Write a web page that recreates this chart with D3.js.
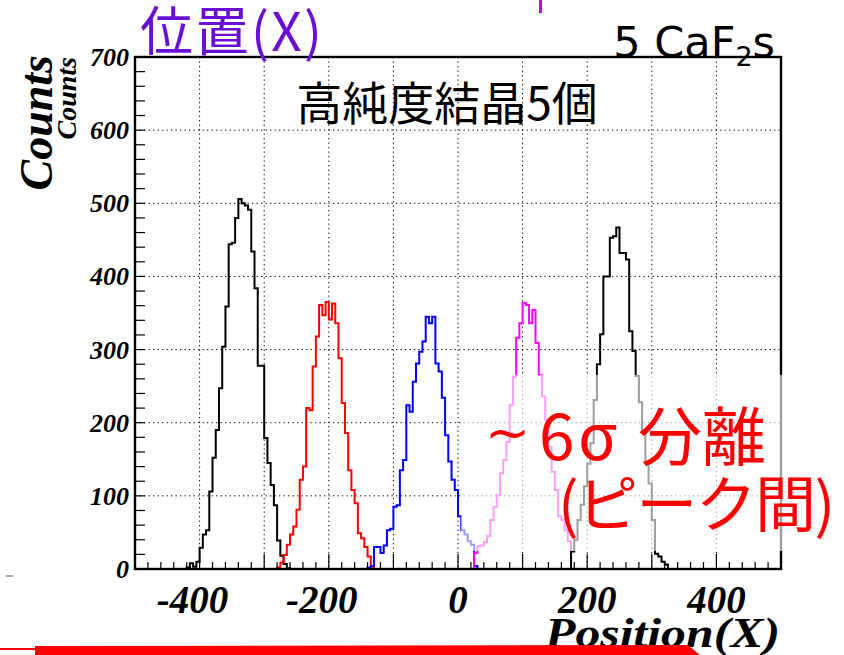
<!DOCTYPE html>
<html>
<head>
<meta charset="utf-8">
<script src="https://cdn.jsdelivr.net/npm/d3@7"></script>
<style>
  body { margin: 0; background: #fff; }
  svg { display: block; }
</style>
</head>
<body>
<svg id="chart" width="844" height="655"></svg>
<script>
// Histogram binning (position units per bin)
const binWidth = 5;

// Crystal 1 (black)
const crystal1Start = -420;
const crystal1Counts = [2, 8, 3, 10, 29, 47, 53, 106, 152, 190, 247, 304, 359, 444, 446, 480,
  506, 500, 497, 491, 434, 384, 278, 278, 179, 145, 115, 87, 39, 18, 7, 1];

// Crystal 2 (red)
const crystal2Start = -280;
const crystal2Counts = [2, 9, 19, 33, 47, 58, 81, 122, 140, 220, 217, 277, 318, 361, 347, 365,
  341, 363, 336, 288, 227, 186, 135, 108, 90, 49, 42, 30, 17, 3];

// Crystal 3 (blue)
const crystal3Start = -140;
const crystal3Counts = [2, 4, 30, 30, 22, 32, 53, 55, 85, 87, 135, 149, 224, 215, 256, 281,
  297, 311, 345, 336, 345, 281, 270, 234, 183, 147, 122, 108, 72, 53, 47, 38, 33, 4];

// Crystal 4 (magenta), empty bins continue along the baseline
const crystal4Start = 25;
const crystal4Counts = [22, 31, 32, 37, 45, 67, 85, 101, 131, 149, 174, 224, 263, 316, 336, 364,
  361, 336, 354, 309, 265, 236, 204, 167, 133, 108, 72, 67, 53, 38,
  0, 0, 0, 0, 0, 0, 0, 0, 0, 0, 0, 0, 0, 0, 0, 0, 0, 0, 0, 0, 0, 0, 0, 0, 0, 0, 0, 0, 0, 0];

// Crystal 5 (black)
const crystal5Start = 175;
const crystal5Counts = [24, 40, 67, 88, 113, 144, 172, 231, 280, 321, 400, 400, 453, 455, 467,
  432, 432, 423, 325, 298, 264, 228, 190, 147, 117, 67, 21, 17, 10, 6];

const seriesStarts = [crystal1Start, crystal2Start, crystal3Start, crystal4Start, crystal5Start];
const seriesCounts = [crystal1Counts, crystal2Counts, crystal3Counts, crystal4Counts, crystal5Counts];
const seriesColors = ["#000000", "#ff0000", "#0000ff", "#ff00ff", "#000000"];

// Axes
const xDomain = [-500, 500];
const yDomain = [0, 700];
const xTickLabels = [-400, -200, 0, 200, 400];
const xGridValues = [-400, -300, -200, -100, 0, 100, 200, 300, 400];
const yTickLabels = [0, 100, 200, 300, 400, 500, 600, 700];

const svg = d3.select("#chart");
const W = 844, H = 655;
const frame = { left: 135, right: 781, top: 57, bottom: 569 };

const x = d3.scaleLinear().domain(xDomain).range([frame.left, frame.right]);
const y = d3.scaleLinear().domain(yDomain).range([frame.bottom, frame.top]);

svg.append("rect").attr("width", W).attr("height", H).attr("fill", "#fff");

// Dotted grid
const grid = svg.append("g").attr("stroke", "#000").attr("stroke-width", 1)
  .attr("stroke-dasharray", "1.3,3.2");
grid.selectAll("line.gx").data(xGridValues).join("line")
  .attr("x1", d => x(d)).attr("x2", d => x(d))
  .attr("y1", frame.top).attr("y2", frame.bottom);
grid.selectAll("line.gy").data(yTickLabels.slice(1, -1)).join("line")
  .attr("y1", d => y(d)).attr("y2", d => y(d))
  .attr("x1", frame.left).attr("x2", frame.right);

// Step outlines for each histogram
function stepPoints(start, counts) {
  const pts = [[start, 0]];
  counts.forEach((c, i) => {
    const lo = start + i * binWidth;
    pts.push([lo, c], [lo + binWidth, c]);
  });
  pts.push([start + counts.length * binWidth, 0]);
  return pts;
}
const line = d3.line().x(d => x(d[0])).y(d => y(d[1]));
const hist = svg.append("g").attr("fill", "none").attr("stroke-width", 2)
  .attr("stroke-linejoin", "miter");
seriesCounts.forEach((counts, i) => {
  hist.append("path")
    .attr("d", line(stepPoints(seriesStarts[i], counts)))
    .attr("stroke", seriesColors[i]);
});

// Frame
svg.append("rect")
  .attr("x", frame.left).attr("y", frame.top)
  .attr("width", frame.right - frame.left).attr("height", frame.bottom - frame.top)
  .attr("fill", "none").attr("stroke", "#000").attr("stroke-width", 2.4);

// Inward ticks: x every 20 (long every 100), y every 20
const ticks = svg.append("g").attr("stroke", "#000").attr("stroke-width", 1.2);
const xMinor = d3.range(-480, 500, 20);
ticks.selectAll("line.tx").data(xMinor).join("line")
  .attr("x1", d => x(d)).attr("x2", d => x(d))
  .attr("y1", frame.bottom).attr("y2", d => frame.bottom - (d % 100 === 0 ? 15 : 7));
const yMinor = d3.range(20, 700, 20);
ticks.selectAll("line.ty").data(yMinor).join("line")
  .attr("y1", d => y(d)).attr("y2", d => y(d))
  .attr("x1", frame.left).attr("x2", frame.left + 10);

// Translucent backdrop behind the separation note
svg.append("rect")
  .attr("x", 461).attr("y", 375).attr("width", W - 461).attr("height", 176)
  .attr("fill", "#fff").attr("opacity", 0.62);

// Tick labels
const serif = "'Liberation Serif', 'DejaVu Serif', serif";
svg.append("g").selectAll("text").data(yTickLabels).join("text")
  .attr("x", 129).attr("y", d => y(d) + 9)
  .attr("text-anchor", "end")
  .attr("font-family", serif).attr("font-weight", "bold").attr("font-style", "italic")
  .attr("font-size", 26).text(d => d);

svg.append("g").selectAll("text").data(xTickLabels).join("text")
  .attr("x", d => x(d) - (d < 0 ? 7 : 0)).attr("y", 613)
  .attr("text-anchor", "middle")
  .attr("font-family", serif).attr("font-weight", "bold").attr("font-style", "italic")
  .attr("font-size", 39).text(d => d);

// Axis titles
svg.append("text")
  .attr("x", 545).attr("y", 647)
  .attr("textLength", 235).attr("lengthAdjust", "spacingAndGlyphs")
  .attr("font-family", serif).attr("font-weight", "bold").attr("font-style", "italic")
  .attr("font-size", 43).text("Position(X)");

svg.append("text")
  .attr("transform", "translate(52,55) rotate(-90)").attr("text-anchor", "end")
  .attr("font-family", serif).attr("font-weight", "bold").attr("font-style", "italic")
  .attr("font-size", 46).text("Counts");
svg.append("text")
  .attr("transform", "translate(76,57) rotate(-90)").attr("text-anchor", "end")
  .attr("font-family", serif).attr("font-weight", "bold").attr("font-style", "italic")
  .attr("font-size", 28).text("Counts");

// Small marks outside the frame
svg.append("line").attr("x1", 6).attr("x2", 13).attr("y1", 576).attr("y2", 576)
  .attr("stroke", "#555").attr("stroke-width", 1);
svg.append("rect").attr("x", 539).attr("y", 0).attr("width", 3).attr("height", 13)
  .attr("fill", "#cc00dd");

// Underline arrow at the bottom
svg.append("path")
  .attr("d", "M35,646 L688,645 L700,655 L35,655 Z").attr("fill", "#ff0000");
svg.append("rect").attr("x", 0).attr("y", 648).attr("width", 36).attr("height", 2)
  .attr("fill", "#ff0000");

// Titles and notes
const jp = "'Noto Sans CJK JP', 'Noto Sans', sans-serif";
svg.append("text").attr("x", 140).attr("y", 51)
  .attr("textLength", 182).attr("lengthAdjust", "spacing")
  .attr("font-family", jp).attr("font-size", 53).attr("fill", "#6a10d4")
  .text("位置(X)");

const caf = svg.append("text").attr("x", 775).attr("y", 57).attr("text-anchor", "end")
  .attr("font-family", "'DejaVu Sans', sans-serif").attr("font-size", 43).attr("fill", "#000");
caf.append("tspan").text("5 CaF");
caf.append("tspan").attr("font-size", 27).attr("dy", 9).text("2");
caf.append("tspan").attr("dy", -9).text("s");

svg.append("text").attr("x", 447).attr("y", 120).attr("text-anchor", "middle")
  .attr("font-family", jp).attr("font-size", 46).attr("fill", "#000")
  .text("高純度結晶5個");

const note = svg.append("text").attr("y", 460)
  .attr("font-family", jp).attr("font-size", 64).attr("fill", "#ff0000");
note.append("tspan").attr("x", 485).attr("dy", -9)
  .attr("font-family", "'DejaVu Sans', sans-serif")
  .attr("font-size", 54).text("~");
note.append("tspan").attr("x", 539).attr("dy", 9).text("6");
note.append("tspan").attr("x", 578).text("σ");
note.append("tspan").attr("x", 638).text("分離");

svg.append("text").attr("x", 558).attr("y", 527)
  .attr("textLength", 277).attr("lengthAdjust", "spacing")
  .attr("font-family", jp).attr("font-size", 61).attr("fill", "#ff0000")
  .text("(ピーク間)");
</script>
</body>
</html>
